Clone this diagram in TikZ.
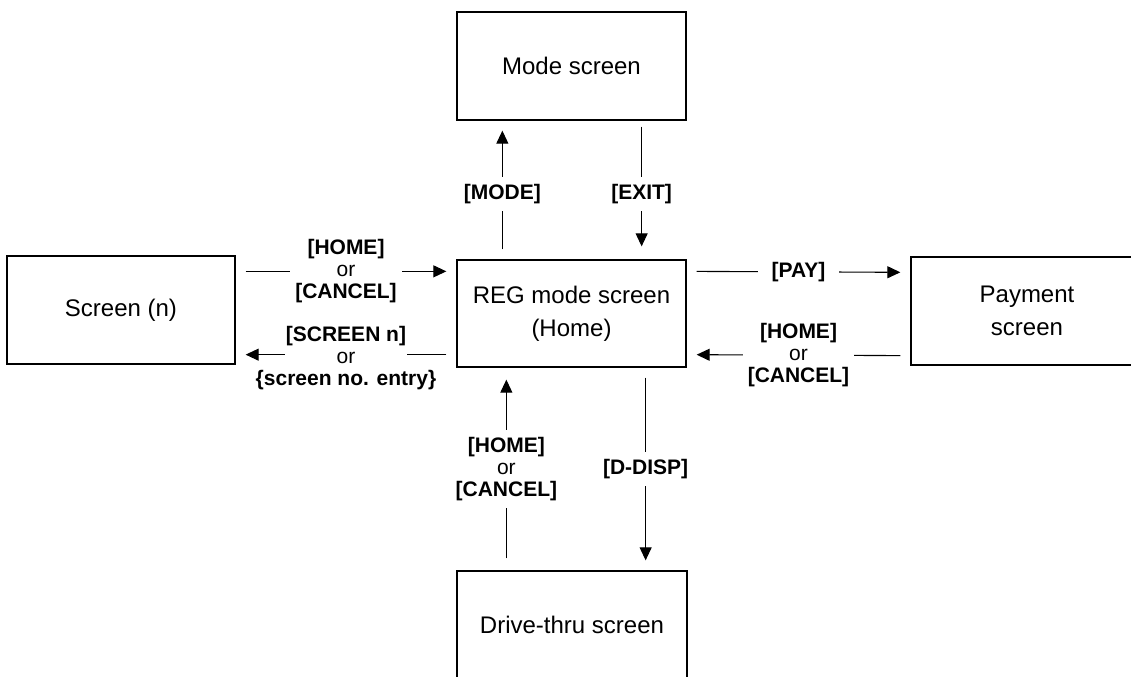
\documentclass[tikz,border=0pt]{standalone}
\usepackage{fontspec}
\setmainfont{Liberation Sans}
\usetikzlibrary{arrows.meta}
\begin{document}
\begin{tikzpicture}[x=0.5pt,y=-0.5pt,>={Triangle[length=6.5pt,width=6pt]},
    box/.style={draw,line width=0.65pt,align=center,inner sep=0pt,font=\fontsize{12}{16.5}\selectfont},
    lbl/.style={fill=white,align=center,inner xsep=2.5pt,inner ysep=3.5pt,font=\bfseries\fontsize{10.5}{11}\selectfont},
    link/.style={line width=0.55pt,shorten <=5pt,shorten >=5pt}]
    \clip (0,0) rectangle (1131,676);
    \node[box,minimum width=114.5pt,minimum height=54pt] (mode) at (571.5,66) {Mode screen};
    \node[box,minimum width=114pt,minimum height=54pt] (scrn) at (121,310) {Screen (n)};
    \node[box,minimum width=114.5pt,minimum height=53.5pt] (reg) at (571.5,313.5) {REG mode screen\\(Home)};
    \node[box,minimum width=116pt,minimum height=54pt] (pay) at (1027,311) {Payment\\screen};
    \node[box,minimum width=115pt,minimum height=54pt] (drive) at (572,625) {Drive-thru screen};
    % up and down
    \draw[link,->] ([xshift=23pt]reg.north west) -- ([xshift=23pt]mode.south west) node[lbl,pos=0.47] {[MODE]};
    \draw[link,->,shorten <=3pt,shorten >=6.5pt] ([xshift=-22.5pt]mode.south east) -- ([xshift=-22.5pt]reg.north east) node[lbl,pos=0.53] {[EXIT]};
    \draw[link,->] ([xshift=-20.5pt]reg.south east) -- ([xshift=-21pt]drive.north east) node[lbl,midway] {[D-DISP]};
    \draw[link,->,shorten <=6pt,shorten >=6pt] ([xshift=25pt]drive.north west) -- ([xshift=25pt]reg.south west) node[lbl,midway] {[HOME]\\{\mdseries or}\\{}[CANCEL]};
    % left and right
    \draw[link,->] ([yshift=-8pt]scrn.north east) -- ([yshift=-6pt]reg.north west) node[lbl,midway] {[HOME]\\{\mdseries or}\\{}[CANCEL]};
    \draw[link,->] ([yshift=6.5pt]reg.south west) -- ([yshift=5pt]scrn.south east)
        node[fill=white,inner sep=0pt,minimum width=61pt,minimum height=3pt,midway] (gap) {}
        node[lbl,fill=none,midway,yshift=-1.5pt] {[SCREEN n]\\{\mdseries or}\\{}\{screen no. entry\}};
    \draw[link,->] ([yshift=-6pt]reg.north east) -- ([yshift=-8pt]pay.north west) node[lbl,inner xsep=7pt,midway] {[PAY]};
    \draw[link,->] ([yshift=5pt]pay.south west) -- ([yshift=6.5pt]reg.south east) node[lbl,midway] {[HOME]\\{\mdseries or}\\{}[CANCEL]};
\end{tikzpicture}
\end{document}
